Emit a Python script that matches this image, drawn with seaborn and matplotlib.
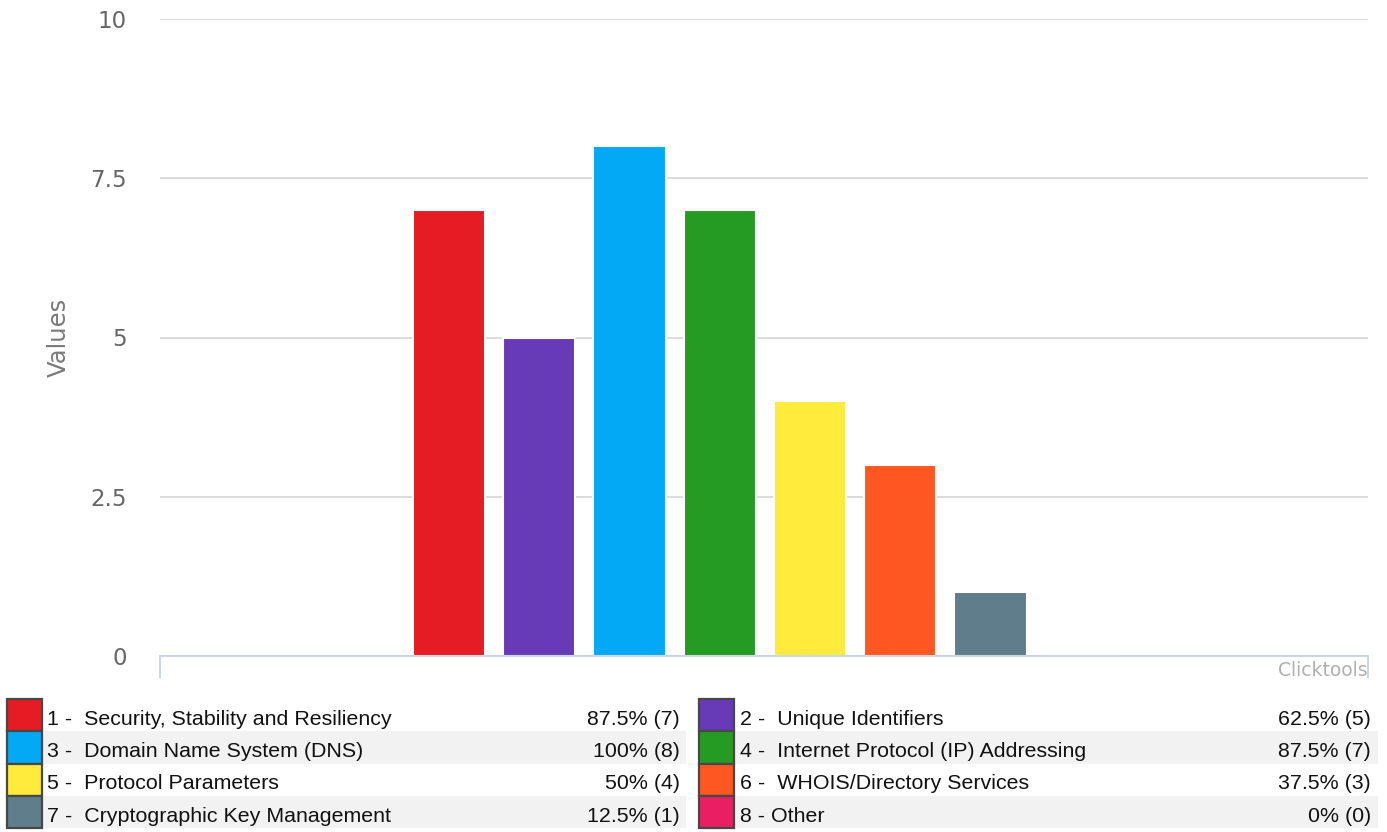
import matplotlib
matplotlib.use("Agg")
import matplotlib.pyplot as plt
import seaborn as sns
import pandas as pd
from matplotlib.patches import Rectangle

# chart data
categories = ["1 -  Security, Stability and Resiliency", "2 -  Unique Identifiers",
              "3 -  Domain Name System (DNS)", "4 -  Internet Protocol (IP) Addressing",
              "5 -  Protocol Parameters", "6 -  WHOIS/Directory Services",
              "7 -  Cryptographic Key Management", "8 - Other"]
values = [7, 5, 8, 7, 4, 3, 1, 0]
percents = ["87.5%", "62.5%", "100%", "87.5%", "50%", "37.5%", "12.5%", "0%"]
colors = ["#e51c23", "#673ab7", "#03a9f4", "#259b24",
          "#ffeb3b", "#ff5722", "#607d8b", "#e91e63"]
yticks = [0, 2.5, 5, 7.5, 10]
ytick_labels = ["0", "2.5", "5", "7.5", "10"]

df = pd.DataFrame({"cat": categories, "val": values})

sns.set_style("white")
plt.rcParams["font.family"] = ["DejaVu Sans"]

W, H = 1387, 832
fig = plt.figure(figsize=(W / 100, H / 100), dpi=100)

# main plot area (pixel box 160..1368 x 19..656)
ax = fig.add_axes([160 / W, (H - 656) / H, 1208 / W, (656 - 19) / H])
sns.barplot(data=df, x="cat", y="val", hue="cat", order=categories,
            hue_order=categories, palette=colors, legend=False, saturation=1,
            edgecolor="white", linewidth=1.5, width=0.8, ax=ax)

ax.set_ylim(0, 10)
xmin, xmax = -3.2, 10.18
ax.set_xlim(xmin, xmax)
ax.set_yticks(yticks)
ax.set_yticklabels(ytick_labels)
ax.yaxis.grid(True, color="#d9d9d9", lw=1.3)
ax.set_axisbelow(True)
for s in ["top", "right", "left"]:
    ax.spines[s].set_visible(False)
ax.spines["bottom"].set_color("#c6d3e0")
ax.spines["bottom"].set_linewidth(1.3)

# boundary ticks of the category axis
ax.set_xticks([xmin, xmax])
ax.set_xticklabels(["", ""])
ax.tick_params(axis="x", bottom=True, length=16, width=1.3, color="#c6d3e0",
               direction="out")
ax.tick_params(axis="y", length=0, pad=24, labelcolor="#666666", labelsize=16.5)
ax.set_xlabel("")
ax.set_ylabel("Values", color="#7a7a7a", fontsize=17.5, labelpad=14)

fig.text(1368 / W, (H - 671) / H, "Clicktools", ha="right", va="center",
         color="#b0b0b0", fontsize=13.5)

# legend table below the chart, in pixel coordinates
lax = fig.add_axes([0, 0, 1, 1])
lax.set_xlim(0, W)
lax.set_ylim(H, 0)
lax.axis("off")

row_top = 699
row_h = 32.3
cols = [(7, 43, 686, 47, 680), (699, 735, 1378, 740, 1371)]
for i, (cat, pct, val, col) in enumerate(zip(categories, percents, values, colors)):
    r, c = divmod(i, 2)
    sq_l, bg_l, bg_r, tx_l, tx_r = cols[c]
    y0 = row_top + r * row_h
    if r % 2 == 1:
        lax.add_patch(Rectangle((bg_l, y0), bg_r - bg_l, row_h,
                                facecolor="#f2f2f2", edgecolor="none"))
    lax.add_patch(Rectangle((sq_l, y0), bg_l - sq_l - 1, row_h,
                            facecolor=col, edgecolor="#474747", lw=1.6))
    yc = y0 + row_h / 2 + 4
    lax.text(tx_l, yc, cat, ha="left", va="center", fontsize=15.4,
             family="Liberation Sans", color="#111111")
    lax.text(tx_r, yc, f"{pct} ({val})", ha="right", va="center", fontsize=15.4,
             family="Liberation Sans", color="#111111")

fig.savefig("out.png", dpi=100)
